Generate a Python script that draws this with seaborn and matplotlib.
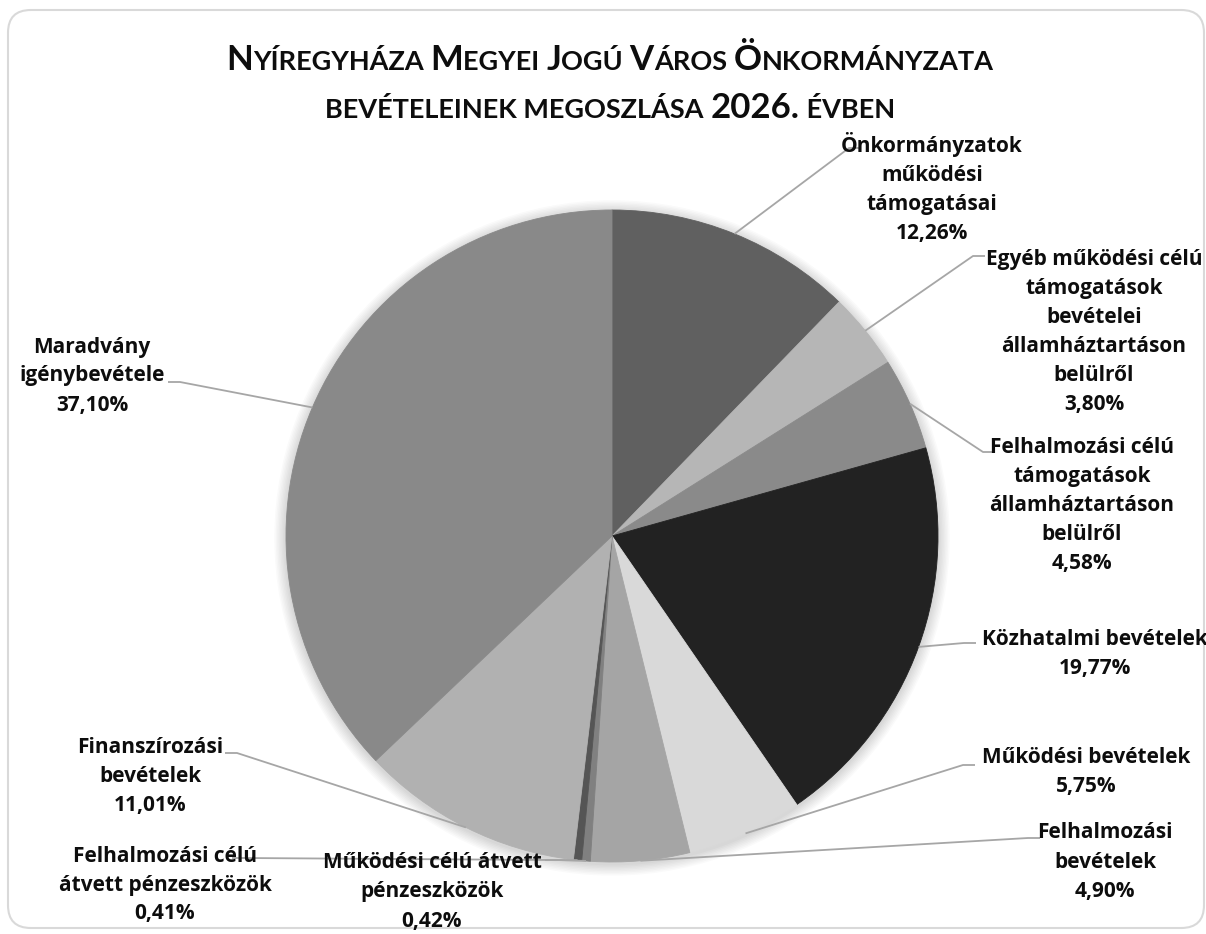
import numpy as np
import matplotlib
matplotlib.use("Agg")
import matplotlib.pyplot as plt
from matplotlib.patches import FancyBboxPatch, Circle
import seaborn as sns

# adatok - bevételek megoszlása (%)
categories = [
    "Önkormányzatok\nműködési\ntámogatásai",
    "Egyéb működési célú\ntámogatások\nbevételei\nállamháztartáson\nbelülről",
    "Felhalmozási célú\ntámogatások\nállamháztartáson\nbelülről",
    "Közhatalmi bevételek",
    "Működési bevételek",
    "Felhalmozási\nbevételek",
    "Működési célú átvett\npénzeszközök",
    "Felhalmozási célú\nátvett pénzeszközök",
    "Finanszírozási\nbevételek",
    "Maradvány\nigénybevétele",
]
shares = [12.26, 3.80, 4.58, 19.77, 5.75, 4.90, 0.42, 0.41, 11.01, 37.10]
colors = ["#606060", "#b6b6b6", "#8a8a8a", "#222222", "#d9d9d9",
          "#a5a5a5", "#808080", "#555555", "#b1b1b1", "#898989"]

# elrendezés (pixel) - címkék közepe és a vezetővonal vége
label_xy = [(932, 188), (1094, 332), (1082, 506), (1095, 654), (1086, 772),
            (1105, 862), (432, 892), (165, 885), (150, 777), (92, 376)]
anchor_xy = [(861, 148), (985, 256), (995, 452), (976, 643), (975, 765),
             (1040, 838), (545, 860), (232, 858), (225, 753), (168, 382)]

W, H = 1206, 934
CX, CY, R = 612, 536, 326


def px2d(px, py):
    return (px - CX) / R, (CY - py) / R


sns.set_theme(style="white")
plt.rcParams["font.family"] = ["Open Sans", "DejaVu Sans"]

fig = plt.figure(figsize=(W / 100, H / 100), dpi=100)
ax = fig.add_axes([0, 0, 1, 1])

# árnyék a kör körül
for k in range(1, 9):
    ax.add_patch(Circle((0.0, -0.006), 1 + k * 0.0045, color="black",
                        alpha=0.018, lw=0, zorder=0))

wedges, _ = ax.pie(shares, colors=colors, startangle=90, counterclock=False,
                   radius=1, center=(0, 0),
                   wedgeprops=dict(linewidth=0.6))
for w, c in zip(wedges, colors):
    w.set_edgecolor(c)
    w.set_zorder(2)

x0, y0 = px2d(0, H)
x1, y1 = px2d(W, 0)
ax.set_xlim(x0, x1)
ax.set_ylim(y0, y1)
ax.set_aspect("equal")
ax.set_axis_off()

# címkék + vezetővonalak
for w, name, val, (lx, ly), (axx, ayy) in zip(wedges, categories, shares, label_xy, anchor_xy):
    mid = np.deg2rad((w.theta1 + w.theta2) / 2)
    ex, ey = np.cos(mid), np.sin(mid)
    ax_, ay_ = px2d(axx, ayy)
    step = 12 / R * (1 if axx < CX else -1)
    kx = ax_ + step
    ax.plot([ex, kx, ax_], [ey, ay_, ay_], color="#a6a6a6", lw=1.3,
            zorder=3, solid_capstyle="butt")
    txt = name + "\n" + f"{val:.2f}".replace(".", ",") + "%"
    tx, ty = px2d(lx, ly)
    ax.text(tx, ty, txt, ha="center", va="center", multialignment="center",
            fontsize=15, fontweight="bold", linespacing=1.5,
            color="#0d0d0d", zorder=4)

# keret
bx0, by0 = px2d(8, 928)
bx1, by1 = px2d(1204, 10)
ax.add_patch(FancyBboxPatch((bx0, by0), bx1 - bx0, by1 - by0,
                            boxstyle="round,pad=0,rounding_size=0.07",
                            fc="none", ec="#d9d9d9", lw=1.5, clip_on=False, zorder=1))

# cím - kiskapitális betűkkel
BIG, SMALL = 25, 19.5
title_lines = [
    ([("N", BIG), ("YÍREGYHÁZA ", SMALL), ("M", BIG), ("EGYEI ", SMALL), ("J", BIG),
      ("OGÚ ", SMALL), ("V", BIG), ("ÁROS ", SMALL), ("Ö", BIG), ("NKORMÁNYZATA", SMALL)], 70),
    ([("BEVÉTELEINEK MEGOSZLÁSA ", SMALL), ("2026.", BIG), (" ÉVBEN", SMALL)], 118),
]
renderer = fig.canvas.get_renderer()
for pieces, base in title_lines:
    arts = []
    for s, fs in pieces:
        t = fig.text(0, 1 - base / H, s, fontsize=fs, fontweight="bold",
                     color="#0d0d0d", va="baseline", ha="left",
                     family=["Lato", "DejaVu Sans"])
        arts.append(t)
    widths = []
    for t in arts:
        bb = t.get_window_extent(renderer)
        widths.append(bb.width)
    total = sum(widths)
    x = 610 - total / 2
    for t, wd in zip(arts, widths):
        t.set_x(x / W)
        x += wd

fig.savefig("out.png", dpi=100)
